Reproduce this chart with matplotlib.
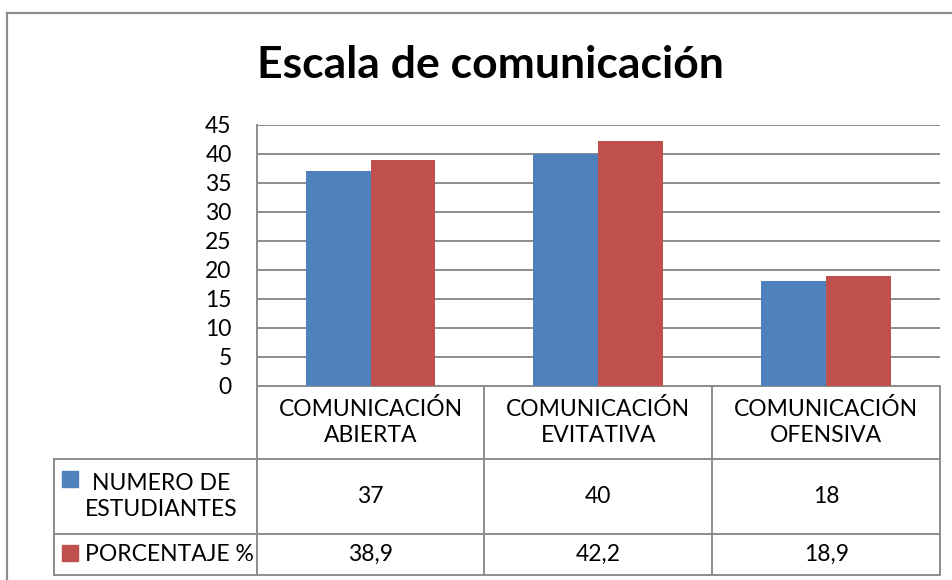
import matplotlib.pyplot as plt
from matplotlib.lines import Line2D
from matplotlib.transforms import blended_transform_factory

# datos del grafico
categorias = ["COMUNICACIÓN\nABIERTA", "COMUNICACIÓN\nEVITATIVA", "COMUNICACIÓN\nOFENSIVA"]
series = ["NUMERO DE\nESTUDIANTES", "PORCENTAJE %"]
estudiantes = [37, 40, 18]
porcentaje = [38.9, 42.2, 18.9]
etiquetas_tabla = [["37", "40", "18"], ["38,9", "42,2", "18,9"]]
colores = ["#4F81BD", "#C0504D"]
yticks = list(range(0, 50, 5))

plt.rcParams['font.family'] = ['Lato', 'DejaVu Sans']
W, H = 953, 580
fig = plt.figure(figsize=(W / 100, H / 100), dpi=100)
gris = '#8C8C8C'

# marco exterior del grafico
fig.add_artist(Line2D([7.5 / W, 7.5 / W], [0, 1 - 13 / H], color=gris, lw=1.6))
fig.add_artist(Line2D([7.5 / W, 1], [1 - 13 / H, 1 - 13 / H], color=gris, lw=1.6))

fig.text(490 / W, 1 - 65 / H, "Escala de comunicación", ha='center', va='center',
         fontsize=32, fontweight='bold')

x0, x1, y0, y1 = 256.7, 940, 124.5, 385.7
ax = fig.add_axes([x0 / W, 1 - y1 / H, (x1 - x0) / W, (y1 - y0) / H])

ancho = 0.285
pos = range(len(categorias))
ax.bar([p - ancho / 2 for p in pos], estudiantes, width=ancho, color=colores[0], zorder=3)
ax.bar([p + ancho / 2 for p in pos], porcentaje, width=ancho, color=colores[1], zorder=3)

ax.set_xlim(-0.5, 2.5)
ax.set_ylim(0, 45)
ax.set_yticks(yticks)
ax.set_xticks([])
ax.yaxis.grid(True, color=gris, lw=1.4, zorder=0)
ax.tick_params(axis='y', length=0, pad=18, labelsize=16.5)
for s in ['top', 'right']:
    ax.spines[s].set_visible(False)
for s in ['left', 'bottom']:
    ax.spines[s].set_color(gris)
    ax.spines[s].set_linewidth(1.4)

# tabla de datos bajo el grafico
tr = blended_transform_factory(ax.transData, ax.transAxes)
hpx = y1 - y0
upx = (x1 - x0) / 3
yh = (y1 - 459) / hpx
yr1 = (y1 - 534) / hpx
yr2 = (y1 - 575) / hpx
xl = -0.5 + (54 - x0) / upx

def linea(xs, ys):
    ax.add_line(Line2D(xs, ys, transform=tr, color=gris, lw=1.4, clip_on=False))

linea([-0.5, -0.5], [0, yr2])
for b in [0.5, 1.5, 2.5]:
    linea([b, b], [0, yr2])
for yy in [yh, yr1, yr2]:
    linea([xl, 2.5], [yy, yy])
linea([xl, xl], [yh, yr2])

for i, cat in enumerate(categorias):
    ax.text(i, yh / 2, cat, transform=tr, ha='center', va='center',
            fontsize=16.5, linespacing=1.3)

filas = [((yh + yr1) / 2, (y1 - 479) / hpx), ((yr1 + yr2) / 2, (y1 - 553) / hpx)]
xm = -0.5 + (70.5 - x0) / upx
xt = -0.5 + (85 - x0) / upx
for j, (yc, ym) in enumerate(filas):
    for i in pos:
        ax.text(i, yc, etiquetas_tabla[j][i], transform=tr, ha='center', va='center', fontsize=16.5)
    ax.plot([xm], [ym], marker='s', ms=11, color=colores[j], transform=tr, clip_on=False)
    ax.text(xt, yc, series[j], transform=tr, ha='left', va='center', multialignment='center',
            fontsize=16.5, linespacing=1.3)

fig.savefig('out.png', dpi=100)
